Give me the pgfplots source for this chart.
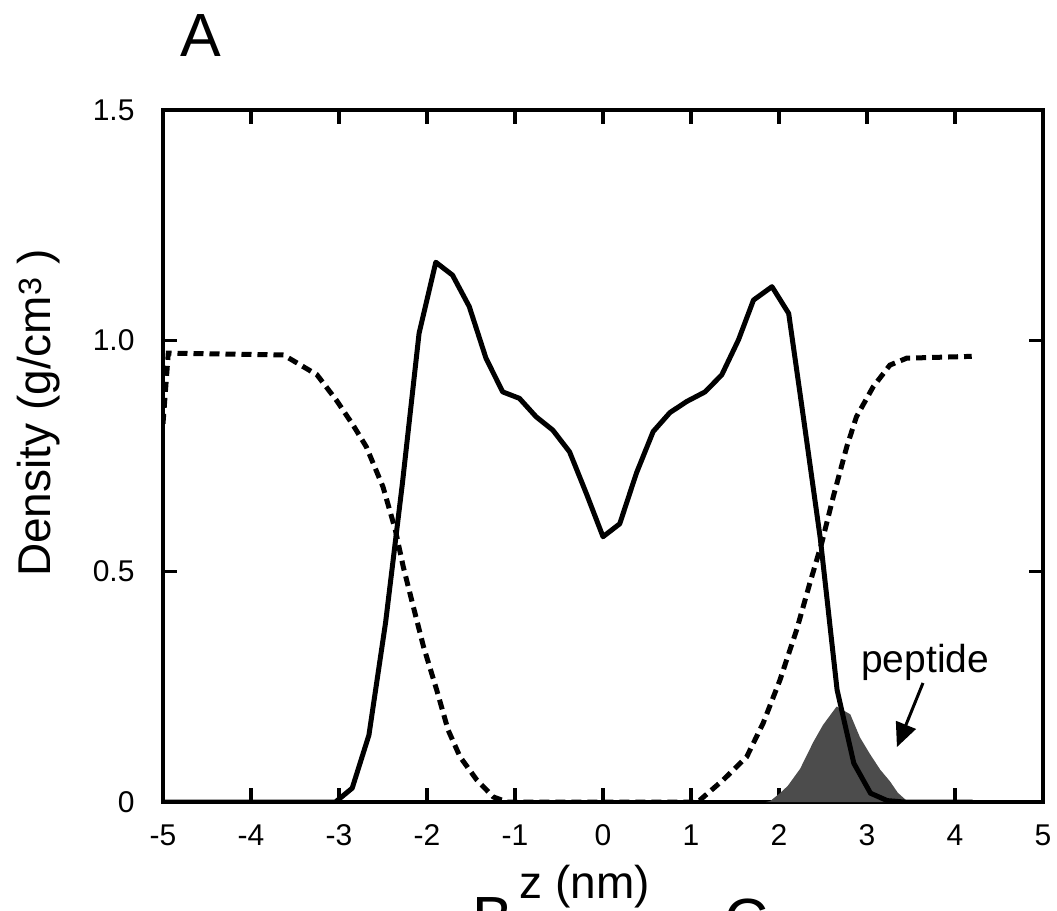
\documentclass[border=0pt]{standalone}
\usepackage{fontspec}
\setmainfont{Liberation Sans}
\usepackage{pgfplots}
\pgfplotsset{compat=1.18}
\usetikzlibrary{arrows.meta}

% density profiles across the bilayer
\pgfplotstableread{
z rho
-5.00 0
-3.04 0
-2.85 0.030
-2.66 0.145
-2.47 0.390
-2.28 0.690
-2.09 1.016
-1.90 1.170
-1.71 1.142
-1.52 1.074
-1.33 0.962
-1.14 0.889
-0.95 0.875
-0.76 0.835
-0.57 0.806
-0.38 0.759
-0.19 0.669
0.00 0.575
0.19 0.603
0.38 0.713
0.57 0.803
0.76 0.844
0.95 0.868
1.16 0.889
1.35 0.926
1.54 1.002
1.71 1.088
1.92 1.117
2.11 1.059
2.28 0.830
2.47 0.570
2.66 0.243
2.85 0.084
3.04 0.019
3.23 0.003
3.42 0
4.20 0
}\lipid

\pgfplotstableread{
z rho
-5.00 0.820
-4.94 0.973
-3.63 0.969
-3.25 0.926
-3.03 0.871
-2.84 0.817
-2.69 0.770
-2.50 0.683
-2.36 0.590
-2.27 0.510
-2.155 0.423
-2.04 0.337
-1.89 0.243
-1.76 0.156
-1.625 0.098
-1.435 0.048
-1.247 0.011
-1.09 0
1.05 0
1.10 0.004
1.367 0.048
1.633 0.098
1.82 0.171
2.01 0.264
2.20 0.373
2.35 0.474
2.485 0.561
2.617 0.662
2.77 0.770
2.88 0.835
3.07 0.900
3.26 0.947
3.45 0.962
4.19 0.966
}\water

\pgfplotstableread{
z rho
1.85 0
1.90 0.002
2.01 0.019
2.10 0.035
2.24 0.072
2.39 0.130
2.50 0.167
2.655 0.207
2.81 0.190
2.92 0.140
3.03 0.105
3.15 0.070
3.26 0.045
3.35 0.020
3.45 0.003
3.50 0
}\peptide

\begin{document}
\begin{tikzpicture}[x=1pt,y=1pt]
\path[use as bounding box, clip] (0,0) rectangle (1057,910);
\begin{axis}[
    at={(163pt,108pt)}, anchor=south west,
    scale only axis,
    width=880pt, height=692pt,
    xmin=-5, xmax=5, ymin=0, ymax=1.5,
    axis line style={line width=3.8pt},
    tick style={line width=3.2pt, black},
    major tick length=14pt,
    tick align=inside,
    xtick={-5,-4,...,5},
    xticklabels={-5,-4,-3,-2,-1,0,1,2,3,4,5},
    ytick={0,0.5,1,1.5},
    yticklabels={0,0.5,1.0,1.5},
    ticklabel style={font=\fontsize{30}{34}\selectfont},
    xticklabel style={yshift=-19pt},
    yticklabel style={xshift=-25pt},
    xlabel={z (nm)},
    ylabel={Density (g/cm\textsuperscript{3} )},
    xlabel style={font=\fontsize{46}{52}\selectfont, at={(rel axis cs:0.4795,-0.139)}, anchor=base},
    ylabel style={font=\fontsize{46}{52}\selectfont, at={(rel axis cs:-0.128,0.562)}, anchor=base},
]
\addplot[draw=none, fill=black!70] table[x=z, y=rho] {\peptide} \closedcycle;
\addplot[black, line width=5pt, line join=round] table[x=z, y=rho] {\lipid};
\addplot[black, line width=5pt, dash pattern=on 10pt off 6pt] table[x=z, y=rho] {\water};
\node[anchor=base, font=\fontsize{39}{44}\selectfont] at (axis cs:3.66,0.28) {peptide};
\draw[line width=3pt, -{Triangle[length=24pt, width=21pt]}] (axis cs:3.636,0.258) -- (axis cs:3.34,0.119);
\end{axis}
\node[anchor=base, font=\fontsize{61}{70}\selectfont] at (201,853) {A};
\node[anchor=base west, inner sep=0pt, font=\fontsize{61}{70}\selectfont] at (472,-29) {B};
\node[anchor=base west, inner sep=0pt, font=\fontsize{61}{70}\selectfont] at (724,-31) {C};
\end{tikzpicture}
\end{document}
